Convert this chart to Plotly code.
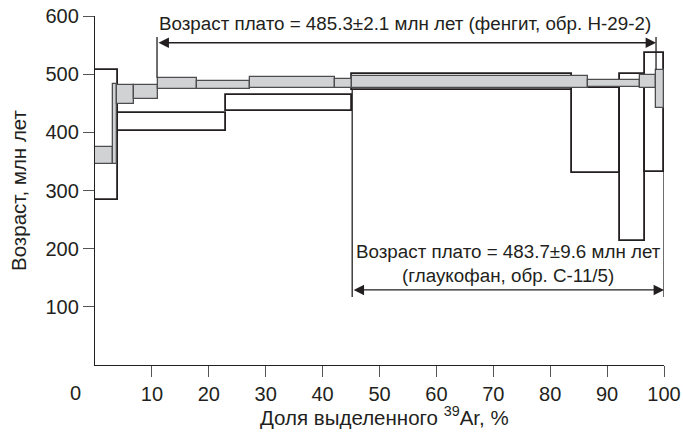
import plotly.graph_objects as go

# ---- data (cumulative % of 39Ar released, age in Ma) ----
# Phengite, sample Н-29-2 (grey steps)
ph_x0 = [0.0, 3.1, 3.8, 6.9, 11.0, 17.9, 27.2, 42.1, 45.2, 86.6, 95.7, 98.6]
ph_x1 = [3.1, 3.8, 6.9, 11.0, 17.9, 27.2, 42.1, 45.2, 86.6, 95.7, 98.6, 100.0]
ph_lo = [346, 345, 448, 458, 475, 474, 477, 476, 477, 478, 477, 441]
ph_hi = [375, 483, 481, 481, 494, 489, 495, 492, 496, 490, 498, 508]

# Glaucophane, sample С-11/5 (white steps)
gl_x0 = [0.0, 4.0, 23.1, 45.2, 83.8, 92.3, 96.7]
gl_x1 = [4.0, 23.1, 45.2, 83.8, 92.3, 96.7, 100.0]
gl_lo = [284, 402, 437, 473, 330, 213, 332]
gl_hi = [508, 434, 465, 500, 476, 500, 536]

# plateau brackets
ph_plateau = [10.9, 98.6]
ph_bracket_y = [554, 564]          # arrow level, top of vertical ticks
ph_bracket_base = [494, 508]       # where the vertical lines meet the steps
gl_plateau = [45.2, 100.0]
gl_bracket_y = [129, 117]          # arrow level, bottom of vertical ticks
gl_bracket_base = [473, 332]

ph_label = "Возраст плато = 485.3±2.1 млн лет (фенгит, обр. Н-29-2)"
gl_label = "Возраст плато = 483.7±9.6 млн лет<br>(глаукофан, обр. С-11/5)"

x_ticks = [10, 20, 30, 40, 50, 60, 70, 80, 90, 100]
y_ticks = [100, 200, 300, 400, 500, 600]

FONT = "Liberation Sans, Arial, sans-serif"
DARK = "#231f20"

L, R, T, B, W, H = 95, 19, 16, 67, 683, 432
pw, ph = W - L - R, H - T - B

fig = go.Figure()

def bar_trace(x0, x1, lo, hi, fill, line_col, lw):
    return go.Bar(
        x=[(a + b) / 2 for a, b in zip(x0, x1)],
        width=[b - a for a, b in zip(x0, x1)],
        base=lo,
        y=[h - l for l, h in zip(lo, hi)],
        marker=dict(color=fill, line=dict(color=line_col, width=lw)),
        showlegend=False,
        hoverinfo="skip",
    )

fig.add_trace(bar_trace(gl_x0, gl_x1, gl_lo, gl_hi, "white", DARK, 1.8))
fig.add_trace(bar_trace(ph_x0, ph_x1, ph_lo, ph_hi, "#d1d2d3", "#4d4d4f", 1.3))

# bracket vertical lines
for xv, base in zip(ph_plateau, ph_bracket_base):
    fig.add_shape(type="line", x0=xv, x1=xv, y0=base, y1=ph_bracket_y[1], xref="x", yref="y",
                  line=dict(color=DARK, width=1.3))
for xv, base in zip(gl_plateau, gl_bracket_base):
    fig.add_shape(type="line", x0=xv, x1=xv, y0=base, y1=gl_bracket_y[1], xref="x", yref="y",
                  line=dict(color=DARK, width=1.3))

# double-headed arrows
for pl, yv in [(ph_plateau, ph_bracket_y[0]), (gl_plateau, gl_bracket_y[0])]:
    fig.add_annotation(x=pl[1], y=yv, ax=pl[0], ay=yv, xref="x", yref="y",
                       axref="x", ayref="y", text="", showarrow=True,
                       arrowhead=2, arrowside="end+start", arrowsize=1.6,
                       arrowwidth=1.3, arrowcolor=DARK)

fig.add_annotation(x=(ph_plateau[0] + ph_plateau[1]) / 2 - 0.2, y=ph_bracket_y[0] + 33,
                   xref="x", yref="y", text=ph_label, showarrow=False,
                   font=dict(family=FONT, size=18.8, color=DARK))
fig.add_annotation(x=72.6, y=gl_bracket_y[0] + 45, xref="x", yref="y",
                   text=gl_label, showarrow=False, align="center",
                   font=dict(family=FONT, size=18.8, color=DARK))

# origin "0" label (placed at the lower-left corner, as in the original)
fig.add_annotation(x=(75 - L) / pw, y=(H - B - 393) / ph, xref="paper", yref="paper",
                   text="0", xanchor="center", yanchor="middle",
                   showarrow=False, font=dict(family=FONT, size=20, color=DARK))
# axis titles
fig.add_annotation(x=(384 - L) / pw, y=(H - B - 416) / ph, xref="paper", yref="paper",
                   text="Доля выделенного <sup>39</sup>Ar, %", showarrow=False,
                   xanchor="center", yanchor="middle",
                   font=dict(family=FONT, size=20.5, color=DARK))
fig.add_annotation(x=(18 - L) / pw, y=(H - B - 190) / ph, xref="paper", yref="paper",
                   text="Возраст, млн лет", textangle=-90, showarrow=False,
                   xanchor="center", yanchor="middle",
                   font=dict(family=FONT, size=20.5, color=DARK))

axis_common = dict(showgrid=False, zeroline=False, showline=True, linecolor=DARK,
                   linewidth=1.3, ticks="outside", ticklen=11, tickwidth=1.3,
                   tickcolor="#555555", automargin=False,
                   tickfont=dict(family=FONT, size=20, color=DARK))
fig.update_xaxes(range=[0, 100], tickvals=x_ticks, **axis_common)
fig.update_yaxes(range=[0, 600], tickvals=y_ticks, **axis_common)

fig.update_layout(
    width=W, height=H,
    margin=dict(l=L, r=R, t=T, b=B, pad=0),
    barmode="overlay", bargap=0,
    plot_bgcolor="white", paper_bgcolor="white",
)

fig.write_html("out.html")
